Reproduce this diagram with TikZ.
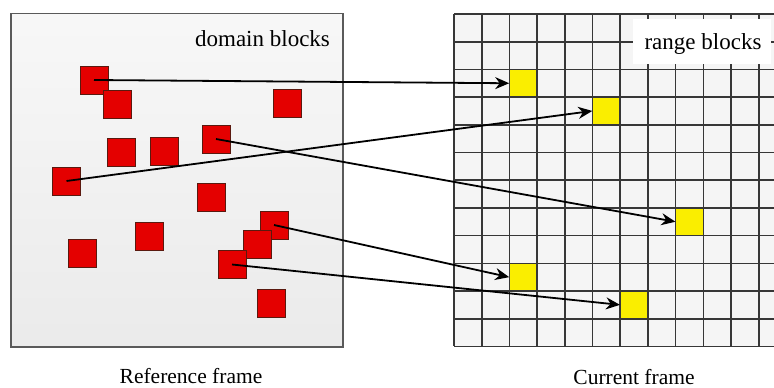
\documentclass[tikz,border=0pt]{standalone}
\usepackage{fontspec}
\setmainfont{Liberation Serif}
\usetikzlibrary{arrows.meta}
\definecolor{blockred}{RGB}{228,0,0}
\definecolor{blockedge}{RGB}{90,25,15}
\definecolor{rangeyellow}{RGB}{250,238,0}
\definecolor{gridline}{RGB}{55,55,55}
\definecolor{framegray}{RGB}{90,90,90}
\begin{document}
\begin{tikzpicture}[x=1pt,y=-1pt,
  dblock/.style={draw=blockedge, line width=0.8pt, fill=blockred, minimum size=28pt, inner sep=0pt},
  rblock/.style={fill=rangeyellow, minimum size=27.7pt, inner sep=0pt},
  link/.style={draw=black, line width=1.8pt, -{Stealth[length=14pt,width=12pt]}},
  gridl/.style={draw=gridline, line width=1.6pt},
  lbl/.style={font=\fontsize{23}{27}\selectfont, anchor=base, inner sep=0pt},
  captext/.style={font=\fontsize{21.5}{25}\selectfont, anchor=base, inner sep=0pt}]
\useasboundingbox (0,0) rectangle (774,388);
% reference frame
\shade[top color=white!97!black, bottom color=white!92!black] (11,13.3) rectangle (343,347);
\draw[draw=framegray, line width=1.6pt] (11,13.3) rectangle (343,347);
\node[lbl] (dlabel) at (262.5,46.5) {domain blocks};
% current frame grid background
\fill[white!96!black] (454,14) rectangle (774,346.4);
% range blocks (yellow)
\node[rblock] (y1) at (523.25,83.25) {};
\node[rblock] (y2) at (606.35,110.95) {};
\node[rblock] (y3) at (689.45,221.75) {};
\node[rblock] (y4) at (523.25,277.15) {};
\node[rblock] (y5) at (634.05,304.85) {};
% grid lines
\foreach \k in {0,...,11} \draw[gridl] (454+27.7*\k,14) -- (454+27.7*\k,346.4);
\foreach \k in {0,...,12} \draw[gridl] (454,14+27.7*\k) -- (774,14+27.7*\k);
% range label
\fill[white] (633,19) rectangle (771,64);
\node[lbl] (rlabel) at (703,49.3) {range blocks};
% domain blocks (red)
\node[dblock] (r1) at (94,80) {};
\node[dblock] (r2) at (117.5,104) {};
\node[dblock] (r3) at (287.5,103) {};
\node[dblock] (r4) at (121.5,152.5) {};
\node[dblock] (r5) at (164,151) {};
\node[dblock] (r6) at (216,139) {};
\node[dblock] (r7) at (66.5,181) {};
\node[dblock] (r8) at (211,197.5) {};
\node[dblock] (r9) at (274,225) {};
\node[dblock] (r10) at (257,244) {};
\node[dblock] (r11) at (232,264.5) {};
\node[dblock] (r12) at (82.5,253.5) {};
\node[dblock] (r13) at (149,236.5) {};
\node[dblock] (r14) at (271,303) {};
% arrows
\draw[link] (r1.center) -- (y1.west);
\draw[link] (r7.center) -- (y2.west);
\draw[link] (r6.center) -- (y3.west);
\draw[link] (r9.center) -- (y4.west);
\draw[link] (r11.center) -- (y5.west);
% captions
\node[captext] (refcap) at (191,383) {Reference frame};
\node[captext] (curcap) at (634,384) {Current frame};
\end{tikzpicture}
\end{document}
